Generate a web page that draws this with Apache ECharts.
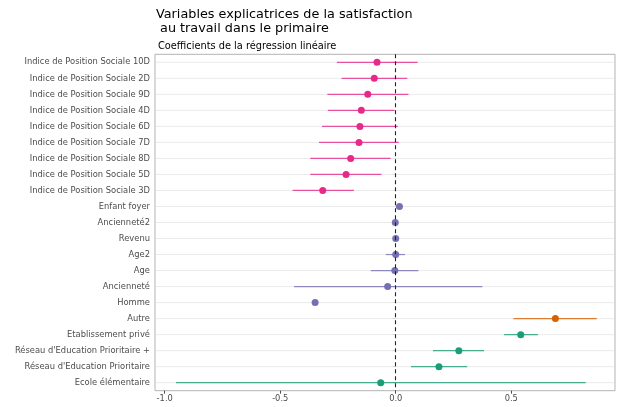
<!DOCTYPE html>
<html><head><meta charset="utf-8">
<script src="https://cdn.jsdelivr.net/npm/echarts@6/dist/echarts.min.js"></script>
<style>html,body{margin:0;padding:0;background:#fff}#c{width:622px;height:407px}</style>
</head><body><div id="c"></div>
<script>
const categories = ["Indice de Position Sociale 10D","Indice de Position Sociale 2D","Indice de Position Sociale 9D","Indice de Position Sociale 4D","Indice de Position Sociale 6D","Indice de Position Sociale 7D","Indice de Position Sociale 8D","Indice de Position Sociale 5D","Indice de Position Sociale 3D","Enfant foyer","Ancienneté2","Revenu","Age2","Age","Ancienneté","Homme","Autre","Etablissement privé","Réseau d'Education Prioritaire +","Réseau d'Education Prioritaire","Ecole élémentaire"];
const estimates = [-0.081,-0.093,-0.121,-0.149,-0.155,-0.159,-0.195,-0.215,-0.316,0.016,-0.002,0.0,0.0,-0.004,-0.035,-0.349,0.691,0.541,0.273,0.187,-0.065];
const lows      = [-0.255,-0.234,-0.296,-0.294,-0.319,-0.332,-0.370,-0.370,-0.446,0.006,-0.006,-0.004,-0.043,-0.108,-0.440,-0.353,0.509,0.469,0.161,0.066,-0.951];
const highs     = [0.095,0.050,0.055,-0.006,0.009,0.013,-0.022,-0.062,-0.181,0.026,0.002,0.004,0.040,0.098,0.375,-0.345,0.870,0.615,0.382,0.309,0.822];
const groups    = ["ips","ips","ips","ips","ips","ips","ips","ips","ips","indiv","indiv","indiv","indiv","indiv","indiv","indiv","genre","ecole","ecole","ecole","ecole"];
const xTicks = [-1.0,-0.5,0.0,0.5];

const groupColor = {ips:"#E7298A", indiv:"#7570B3", genre:"#D95F02", ecole:"#1B9E77"};
const XMIN = -1.042, XMAX = 0.949;

const chart = echarts.init(document.getElementById('c'), null, {renderer:'canvas'});
const rows = categories.map((c,i)=>[estimates[i], i, lows[i], highs[i]]);
chart.setOption({
  animation:false,
  backgroundColor:'#fff',
  title:[
    {text:'Variables explicatrices de la satisfaction\n au travail dans le primaire', left:151, top:3,
     textStyle:{fontFamily:'DejaVu Sans', fontSize:12.8, fontWeight:'normal', color:'#000', lineHeight:14}},
    {text:'Coefficients de la régression linéaire', left:153, top:36,
     textStyle:{fontFamily:'DejaVu Sans', fontSize:9.8, fontWeight:'normal', color:'#000'}}
  ],
  grid:{left:155, right:7, top:54.3, bottom:16.3, show:true, borderColor:'#b3b3b3', borderWidth:1, backgroundColor:'#fff'},
  xAxis:{type:'value', min:XMIN, max:XMAX,
    axisLine:{show:false}, splitLine:{show:false},
    axisTick:{show:true, length:3, customValues:xTicks, lineStyle:{color:'#4d4d4d'}},
    axisLabel:{customValues:xTicks, fontFamily:'DejaVu Sans', fontSize:8.3, color:'#4d4d4d', margin:4,
      formatter:v=>v.toFixed(1)}},
  yAxis:{type:'category', data:categories, inverse:true, boundaryGap:true,
    axisLine:{show:false}, splitLine:{show:false},
    axisTick:{show:true, alignWithLabel:true, length:3, lineStyle:{color:'#4d4d4d'}},
    axisLabel:{fontFamily:'DejaVu Sans', fontSize:8.35, color:'#4d4d4d', margin:5, interval:0}},
  series:[
    {type:'custom', z:1, silent:true, data:rows,
     renderItem:(params, api)=>{
       const a = api.coord([XMIN, api.value(1)]);
       const b = api.coord([XMAX, api.value(1)]);
       return {type:'line', shape:{x1:a[0]+1,y1:a[1],x2:b[0]-1,y2:b[1]}, style:{stroke:'#ebebeb', lineWidth:1}};
     }},
    {type:'custom', z:3, silent:true, data:rows,
     renderItem:(params, api)=>{
       const i = api.value(1);
       const a = api.coord([api.value(2), i]);
       const b = api.coord([api.value(3), i]);
       return {type:'line', shape:{x1:a[0],y1:a[1],x2:b[0],y2:b[1]},
         style:{stroke:groupColor[groups[i]], lineWidth:1.2, opacity:0.8}};
     }},
    {type:'scatter', z:4, data:rows, symbolSize:7, encode:{x:0,y:1},
     itemStyle:{color:p=>groupColor[groups[p.dataIndex]], opacity:1},
     markLine:{silent:true, symbol:'none', label:{show:false},
       lineStyle:{color:'#222', type:[4,3], width:1.1}, data:[{xAxis:0}]}}
  ]
});
</script></body></html>
